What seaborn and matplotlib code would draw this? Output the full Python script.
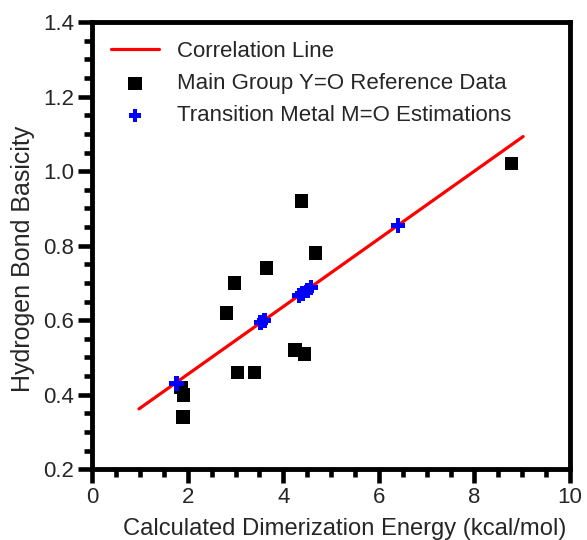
import numpy as np
import pandas as pd
import matplotlib
matplotlib.use("Agg")
import matplotlib.pyplot as plt
from matplotlib.ticker import MultipleLocator
import seaborn as sns

# Data
main_x = [4.38, 4.67, 3.65, 2.98, 2.81, 4.25, 4.44, 3.04, 3.40, 1.86, 1.91, 1.90, 8.78]
main_y = [0.92, 0.78, 0.74, 0.70, 0.62, 0.52, 0.51, 0.46, 0.46, 0.42, 0.40, 0.34, 1.02]
tm_x = [1.76, 3.53, 3.60, 4.33, 4.40, 4.50, 4.58, 6.40]
tm_y = [0.430, 0.594, 0.599, 0.667, 0.671, 0.680, 0.688, 0.854]
line_x = [0.98, 9.02]
line_y = [0.362, 1.093]

x_ticks = [0, 2, 4, 6, 8, 10]
y_ticks = [0.2, 0.4, 0.6, 0.8, 1.0, 1.2, 1.4]

sns.set_style("ticks")
plt.rcParams['font.family'] = ['Liberation Sans', 'DejaVu Sans']

fig = plt.figure(figsize=(5.87, 5.40), dpi=100)
ax = fig.add_axes([0.157, 0.131, 0.814, 0.828])

df_line = pd.DataFrame({"x": line_x, "y": line_y})
df_main = pd.DataFrame({"x": main_x, "y": main_y})
df_tm = pd.DataFrame({"x": tm_x, "y": tm_y})

sns.lineplot(data=df_line, x="x", y="y", ax=ax, color="#ff0000", linewidth=2.3,
             label="Correlation Line")
sns.scatterplot(data=df_main, x="x", y="y", ax=ax, marker="s", color="black",
                s=95, edgecolor="none", label="Main Group Y=O Reference Data", zorder=3)
sns.scatterplot(data=df_tm, x="x", y="y", ax=ax, marker="P", color="#0000ff",
                s=110, edgecolor="none", label="Transition Metal M=O Estimations", zorder=4)

ax.set_xlim(0, 10)
ax.set_ylim(0.2, 1.4)
ax.set_xticks(x_ticks)
ax.set_yticks(y_ticks)
ax.set_xticklabels([f"{t:g}" for t in x_ticks])
ax.set_yticklabels([f"{t:.1f}" for t in y_ticks])
ax.xaxis.set_minor_locator(MultipleLocator(0.5))
ax.yaxis.set_minor_locator(MultipleLocator(0.05))

for side in ["left", "right", "top", "bottom"]:
    ax.spines[side].set_visible(True)
    ax.spines[side].set_linewidth(3.5)
    ax.spines[side].set_color("black")

ax.tick_params(axis="both", which="major", direction="out", length=10, width=3.3,
               labelsize=16, color="black", pad=3)
ax.tick_params(axis="both", which="minor", direction="out", length=6, width=3.3,
               color="black")
ax.tick_params(top=False, right=False, which="both")

ax.set_xlabel("Calculated Dimerization Energy (kcal/mol)", fontsize=17.1)
ax.set_ylabel("Hydrogen Bond Basicity", fontsize=18)
ax.xaxis.set_label_coords(0.528, -0.108)
ax.yaxis.set_label_coords(-0.119, 0.47)

leg = ax.legend(loc="upper left", frameon=False, fontsize=16, handlelength=2.15,
                handletextpad=0.8, labelspacing=0.5, borderaxespad=0.45,
                bbox_to_anchor=(0.0, 1.0))
sizes = [None, 95, 85]
for h, sz in zip(leg.legend_handles, sizes):
    if sz is not None:
        try:
            h.set_sizes([sz])
        except Exception:
            pass

fig.savefig("out.png", dpi=100)
